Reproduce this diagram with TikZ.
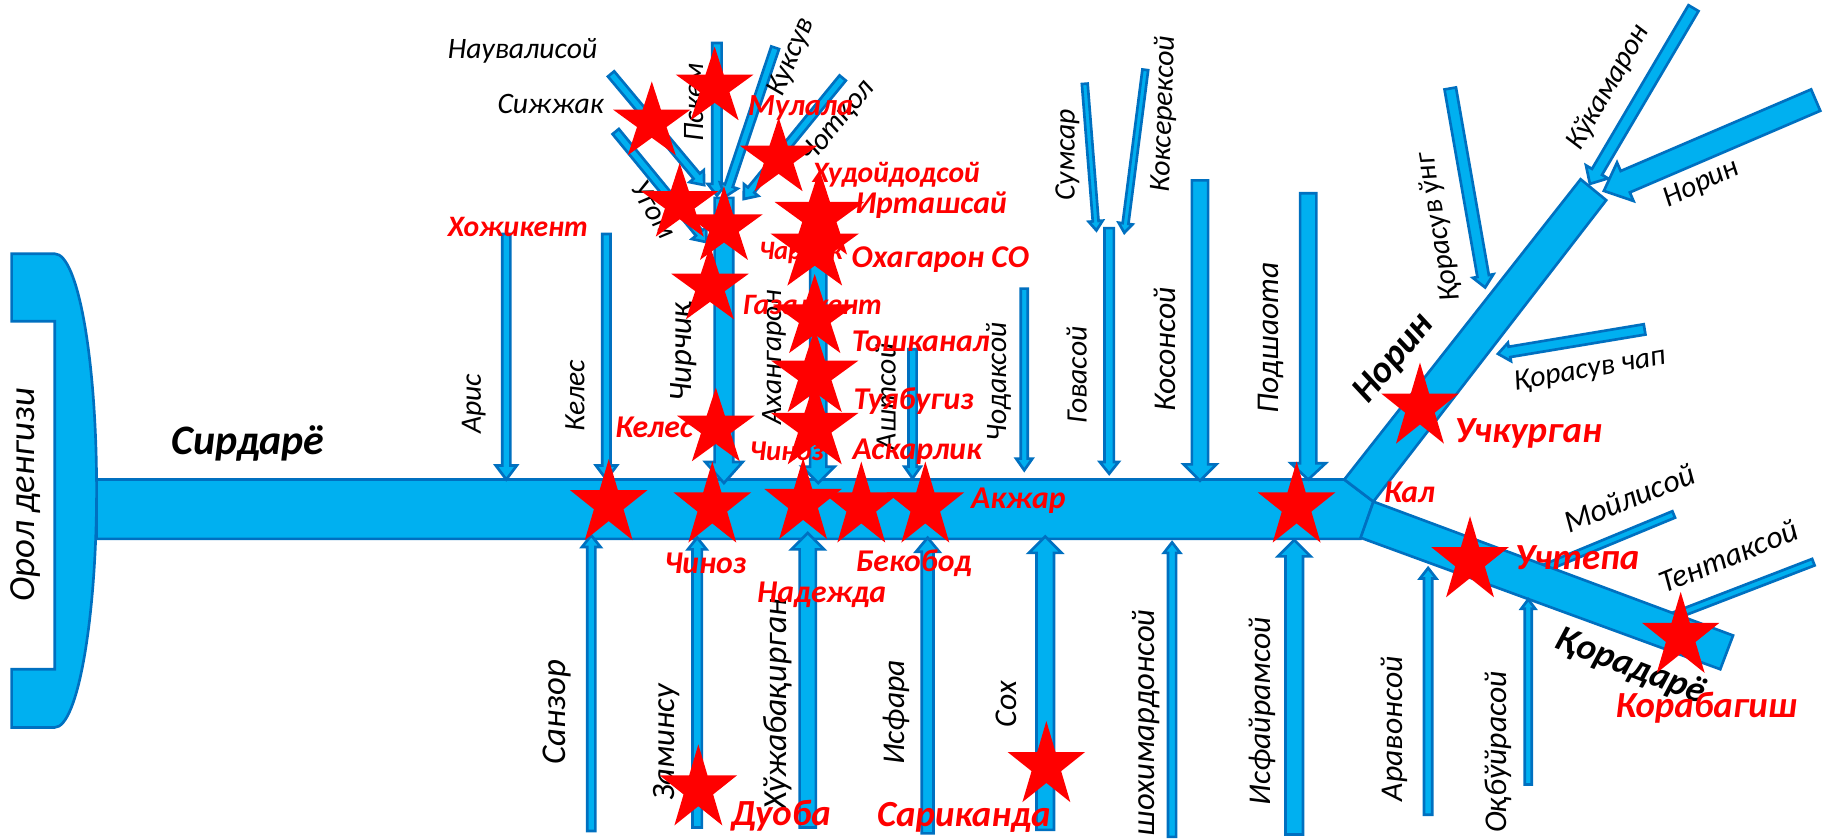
\documentclass[tikz,border=0pt]{standalone}
\usepackage{fontspec}
\setmainfont{Carlito}
\usetikzlibrary{calc, shapes.geometric}
\definecolor{riverfill}{HTML}{00B0F0}
\definecolor{riverline}{HTML}{0070C0}
\newcommand{\riverarrow}[5]{
    \coordinate (base) at ($(#2)!#5*0.02cm!(#1)$);
    \draw[river] ($(#1)!#3*0.02cm!90:(#2)$) -- ($(base)!#3*0.02cm!90:(#2)$) -- ($(base)!#4*0.02cm!90:(#2)$) -- (#2)
        -- ($(base)!#4*0.02cm!-90:(#2)$) -- ($(base)!#3*0.02cm!-90:(#2)$) -- ($(#1)!#3*0.02cm!-90:(#2)$) -- cycle;
}
\begin{document}
\begin{tikzpicture}
            [x=0.02cm, y=-0.02cm,
            river/.style={fill=riverfill, draw=riverline, line width=1.3pt, line join=miter},
            lbl/.style={font=\fontsize{#1}{#1}\selectfont\itshape, inner sep=0pt},
            lbl/.default=14.5,
            main/.style={font=\fontsize{#1}{#1}\selectfont\bfseries\itshape, inner sep=0pt},
            post/.style={font=\fontsize{#1}{#1}\selectfont\bfseries\itshape, text=red, inner sep=0pt},
            post/.default=15.5,
            gauge/.style={shape=star, star points=5, star point ratio=2.618, fill=red, draw=none, inner sep=0pt, minimum size=1.4cm},
            tall/.style={gauge, yscale=1.1}]
            \useasboundingbox (0, 0) rectangle (1568, 720);

            \coordinate (moyli1) at (1438, 442);
            \coordinate (moyli2) at (1310, 495);
            \coordinate (tentak1) at (1558, 483);
            \coordinate (tentak2) at (1410, 540);
            \riverarrow{moyli1}{moyli2}{3}{8}{8}
            \riverarrow{tentak1}{tentak2}{3}{8}{8}

            \draw[river] (83, 412) -- (1155, 412) -- (1180, 431) -- (1169, 463) -- (83, 463) -- cycle;
            \draw[river] (1155, 412) -- (1358, 154) -- (1380, 172) -- (1180, 431) -- cycle;
            \draw[river] (1180, 431) -- (1489, 546) -- (1478, 575) -- (1169, 462) -- cycle;
            \draw[river] (10, 218) -- (47, 218) .. controls (67, 218) and (83, 309) .. (83, 421)
                .. controls (83, 530) and (67, 625) .. (47, 625) -- (10, 625) -- (10, 575) -- (47, 575)
                -- (47, 276) -- (10, 276) -- cycle;

            \coordinate (aris1) at (435, 201);
            \coordinate (aris2) at (435, 412);
            \coordinate (keles1) at (521, 201);
            \coordinate (keles2) at (521, 412);
            \coordinate (chirchiq1) at (622, 170);
            \coordinate (chirchiq2) at (622, 415);
            \coordinate (ahangaron1) at (703, 190);
            \coordinate (ahangaron2) at (703, 415);
            \coordinate (asht1) at (784, 300);
            \coordinate (asht2) at (784, 411);
            \coordinate (chodak1) at (880, 248);
            \coordinate (chodak2) at (880, 404);
            \coordinate (gova1) at (953, 196);
            \coordinate (gova2) at (953, 407);
            \coordinate (koson1) at (1031, 155);
            \coordinate (koson2) at (1031, 413);
            \coordinate (podsho1) at (1124, 166);
            \coordinate (podsho2) at (1124, 412);
            \coordinate (pskem1) at (616, 37);
            \coordinate (pskem2) at (616, 168);
            \coordinate (nauvali1) at (525, 63.5);
            \coordinate (nauvali2) at (605, 159);
            \coordinate (ugom1) at (529, 113);
            \coordinate (ugom2) at (607, 208);
            \coordinate (kuksuv1) at (666, 41);
            \coordinate (kuksuv2) at (623, 169);
            \coordinate (chotqol1) at (724, 67);
            \coordinate (chotqol2) at (639, 171);
            \coordinate (sumsar1) at (932, 72);
            \coordinate (sumsar2) at (942, 198);
            \coordinate (kokserek1) at (984, 60);
            \coordinate (kokserek2) at (966, 200);
            \coordinate (kukamaron1) at (1455, 7);
            \coordinate (kukamaron2) at (1366, 158);
            \coordinate (norin1) at (1560, 86);
            \coordinate (norin2) at (1378, 164);
            \coordinate (unggor1) at (1246, 76);
            \coordinate (unggor2) at (1276, 247);
            \coordinate (chapqor1) at (1413, 283);
            \coordinate (chapqor2) at (1287, 304);
            \coordinate (sangzor1) at (508, 714);
            \coordinate (sangzor2) at (508, 460);
            \coordinate (zomin1) at (599, 711);
            \coordinate (zomin2) at (599, 462);
            \coordinate (xoja1) at (694, 711);
            \coordinate (xoja2) at (694, 458);
            \coordinate (isfara1) at (797, 716);
            \coordinate (isfara2) at (797, 462);
            \coordinate (sox1) at (898, 713);
            \coordinate (sox2) at (898, 461);
            \coordinate (shoxi1) at (1007, 719);
            \coordinate (shoxi2) at (1007, 466);
            \coordinate (isfayram1) at (1112, 717);
            \coordinate (isfayram2) at (1112, 464);
            \coordinate (aravon1) at (1227, 700);
            \coordinate (aravon2) at (1227, 488);
            \coordinate (oqbuyra1) at (1313, 674);
            \coordinate (oqbuyra2) at (1313, 515);

            \riverarrow{aris1}{aris2}{3.5}{9}{12}
            \riverarrow{keles1}{keles2}{3.5}{9}{12}
            \riverarrow{chirchiq1}{chirchiq2}{8}{16}{18}
            \riverarrow{ahangaron1}{ahangaron2}{7}{14}{14}
            \riverarrow{asht1}{asht2}{3.5}{7}{10}
            \riverarrow{chodak1}{chodak2}{3}{7}{10}
            \riverarrow{gova1}{gova2}{4}{8}{10}
            \riverarrow{koson1}{koson2}{7}{14}{14}
            \riverarrow{podsho1}{podsho2}{7}{15}{14}
            \riverarrow{pskem1}{pskem2}{4}{8}{10}
            \riverarrow{nauvali1}{nauvali2}{3.5}{8}{10}
            \riverarrow{ugom1}{ugom2}{3.5}{8}{10}
            \riverarrow{kuksuv1}{kuksuv2}{3.5}{8}{10}
            \riverarrow{chotqol1}{chotqol2}{3.5}{8}{10}
            \riverarrow{sumsar1}{sumsar2}{2.5}{6}{8}
            \riverarrow{kokserek1}{kokserek2}{2.5}{6}{8}
            \riverarrow{kukamaron1}{kukamaron2}{5}{11}{12}
            \riverarrow{norin1}{norin2}{10}{18}{20}
            \riverarrow{unggor1}{unggor2}{5}{9}{10}
            \riverarrow{chapqor1}{chapqor2}{4.5}{8}{10}
            \riverarrow{sangzor1}{sangzor2}{3.5}{8}{10}
            \riverarrow{zomin1}{zomin2}{4}{8}{10}
            \riverarrow{xoja1}{xoja2}{7}{14}{14}
            \riverarrow{isfara1}{isfara2}{5}{10}{12}
            \riverarrow{sox1}{sox2}{7.5}{14}{14}
            \riverarrow{shoxi1}{shoxi2}{3.5}{7}{9}
            \riverarrow{isfayram1}{isfayram2}{7.5}{14}{14}
            \riverarrow{aravon1}{aravon2}{3.5}{7}{9}
            \riverarrow{oqbuyra1}{oqbuyra2}{3}{6}{8}

            \node[lbl=18,rotate=90] (orol) at (22, 425) {Орол денгизи};
            \node[main=20.5] (sirdaryo) at (213, 381) {Сирдарё};
            \node[lbl] (nauvalitxt) at (449, 44) {Наувалисой};
            \node[lbl] (sijjak) at (473, 89) {Сижжак};
            \node[lbl,rotate=90] (pskemtxt) at (596, 88) {Пскем};
            \node[lbl,rotate=67] (kuksuvtxt) at (680, 49) {Куксув};
            \node[lbl,rotate=50] (chotqoltxt) at (720, 105) {Чотқол};
            \node[lbl,rotate=-60] (ugomtxt) at (562, 180) {Угом};
            \node[lbl,rotate=90] (aristxt) at (407, 347) {Арис};
            \node[lbl,rotate=90] (kelestxt) at (494, 340) {Келес};
            \node[lbl=16,rotate=90] (chirchiqtxt) at (587, 302) {Чирчиқ};
            \node[lbl,rotate=90] (ahangarontxt) at (665, 307) {Ахангарон};
            \node[lbl,rotate=90] (ashttxt) at (761, 341) {Аштсой};
            \node[lbl,rotate=90] (chodaktxt) at (858, 328) {Чодаксой};
            \node[lbl,rotate=90] (govatxt) at (925, 322) {Говасой};
            \node[lbl=15.5,rotate=90] (kosontxt) at (1001, 300) {Косонсой};
            \node[lbl=15.5,rotate=90] (podshotxt) at (1092, 290) {Подшаота};
            \node[lbl,rotate=90] (sumsartxt) at (917, 133) {Сумсар};
            \node[lbl,rotate=88] (kokserektxt) at (1000, 98) {Коксерексой};
            \node[lbl,rotate=100] (unggortxt) at (1236, 195) {Қорасув ўнг};
            \node[lbl,rotate=60] (kukamarontxt) at (1382, 75) {Кўкамарон};
            \node[lbl,rotate=25] (norintxt) at (1462, 158) {Норин};
            \node[main=18.5,rotate=50] (norinmain) at (1198, 308) {Норин};
            \node[lbl,rotate=10] (chapqortxt) at (1366, 318) {Қорасув чап};
            \node[lbl=15.5,rotate=22] (moylitxt) at (1400, 428) {Мойлисой};
            \node[lbl=15.5,rotate=22] (tentaktxt) at (1485, 478) {Тентаксой};
            \node[main=18,rotate=-21] (qoradaryo) at (1401, 573) {Қорадарё};
            \node[lbl=17,rotate=90] (sangzortxt) at (479, 612) {Санзор};
            \node[lbl=16,rotate=90] (zomintxt) at (573, 638) {Заминсу};
            \node[lbl=16.5,rotate=90] (xojatxt) at (668, 605) {Хўжабақирган};
            \node[lbl=15.5,rotate=90] (isfaratxt) at (770, 612) {Исфара};
            \node[lbl=15.5,rotate=90] (soxtxt) at (865, 605) {Сох};
            \node[lbl=16,rotate=90] (shoxitxt) at (985, 621) {шохимардонсой};
            \node[lbl=15.5,rotate=90] (isfayramtxt) at (1085, 611) {Исфайрамсой};
            \node[lbl=15.5,rotate=90] (aravontxt) at (1198, 626) {Аравонсой};
            \node[lbl=15.5,rotate=90] (oqbuyratxt) at (1287, 646) {Оқбўйрасой};

            \node[post=14.5] (xojikent) at (445, 195) {Хожикент};
            \node[post=15] (mulala) at (688, 93) {Мулала};
            \node[post=14.5] (xudoy) at (770, 150) {Худойдодсой};
            \node[post] (irtash) at (800, 176) {Ирташсай};
            \node[post=13] (charvak) at (688, 217) {Чарвак};
            \node[post] (oxagaron) at (808, 223) {Охагарон СО};
            \node[post=14.5] (gazal) at (698, 262) {Газалкент};
            \node[post] (toshkanal) at (791, 293) {Тошканал};
            \node[post] (tuya) at (785, 345) {Туябугиз};
            \node[post] (kelespost) at (562, 367) {Келес};
            \node[post=14] (chinozup) at (676, 388) {Чиноз};
            \node[post] (askar) at (788, 388) {Аскарлик};
            \node[post] (akjar) at (875, 430) {Акжар};
            \node[post] (kal) at (1211, 423) {Кал};
            \node[post=18] (uchqurgon) at (1313, 372) {Учкурган};
            \node[post=18] (uchtepa) at (1355, 479) {Учтепа};
            \node[post=18] (qorabog) at (1466, 608) {Корабагиш};
            \node[post] (chinozdown) at (606, 484) {Чиноз};
            \node[post] (bekobod) at (785, 484) {Бекобод};
            \node[post] (nadejda) at (706, 511) {Надежда};
            \node[post=18] (duoba) at (671, 701) {Дуоба};
            \node[post=18] (sarikanda) at (828, 702) {Сариканда};

            \node[gauge] (g1) at (614, 75) {};
            \node[gauge] (g2) at (560, 105) {};
            \node[gauge] (g3) at (669, 136) {};
            \node[gauge] (g4) at (584, 175) {};
            \node[gauge] (g5) at (622, 195) {};
            \node[gauge,minimum size=1.62cm] (g6) at (704, 186) {};
            \node[gauge,minimum size=1.6cm] (g7) at (700, 213) {};
            \node[gauge] (g8) at (610, 246) {};
            \node[gauge,minimum size=1.5cm] (g9) at (700, 273) {};
            \node[gauge,minimum size=1.58cm] (g10) at (700, 322) {};
            \node[gauge,minimum size=1.58cm] (g11) at (700, 367) {};
            \node[gauge] (g12) at (615, 368) {};
            \node[tall] (g13) at (523, 433) {};
            \node[tall] (g14) at (612, 435) {};
            \node[tall] (g15) at (690, 432) {};
            \node[tall] (g16) at (740, 435) {};
            \node[tall] (g17) at (795, 435) {};
            \node[tall] (g18) at (1114, 435) {};
            \node[tall] (g19) at (1220, 350) {};
            \node[tall] (g20) at (1263, 482) {};
            \node[tall] (g21) at (1444, 547) {};
            \node[tall] (g22) at (600, 678) {};
            \node[tall] (g23) at (899, 658) {};
        \end{tikzpicture}
\end{document}
